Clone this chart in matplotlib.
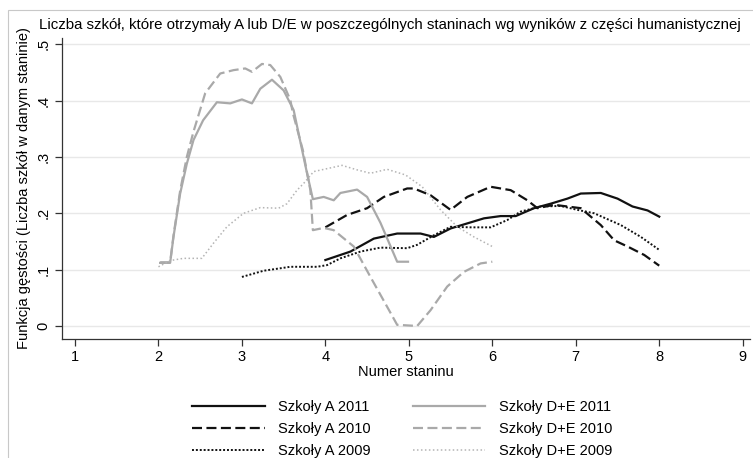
import matplotlib
matplotlib.use("Agg")
from matplotlib import pyplot as plt
from matplotlib.patches import Rectangle

plt.rcParams["font.family"] = ["Liberation Sans", "DejaVu Sans"]

TITLE = "Liczba szkół, które otrzymały A lub D/E w poszczególnych staninach wg wyników z części humanistycznej"
XLABEL = "Numer staninu"
YLABEL = "Funkcja gęstości (Liczba szkół w danym staninie)"

x_ticks = [1, 2, 3, 4, 5, 6, 7, 8, 9]
y_ticks = [0, 0.1, 0.2, 0.3, 0.4, 0.5]
y_ticklabels = ["0", ".1", ".2", ".3", ".4", ".5"]

# Szkoly A 2011
a2011_x = [4.00, 4.30, 4.58, 4.86, 5.14, 5.30, 5.50, 5.70, 5.90, 6.10, 6.28, 6.50, 6.70, 6.90,
           7.06, 7.30, 7.50, 7.68, 7.86, 8.00]
a2011_y = [0.117, 0.132, 0.155, 0.164, 0.164, 0.158, 0.173, 0.182, 0.191, 0.195, 0.195, 0.209,
           0.217, 0.226, 0.235, 0.236, 0.226, 0.212, 0.205, 0.194]

# Szkoly A 2010
a2010_x = [4.00, 4.26, 4.50, 4.70, 4.98, 5.06, 5.26, 5.50, 5.70, 5.98, 6.22, 6.42, 6.54, 6.74,
           7.06, 7.30, 7.46, 7.62, 7.82, 8.00]
a2010_y = [0.175, 0.197, 0.209, 0.229, 0.244, 0.244, 0.232, 0.206, 0.229, 0.247, 0.241, 0.223,
           0.209, 0.215, 0.209, 0.179, 0.152, 0.141, 0.126, 0.107]

# Szkoly A 2009
a2009_x = [3.00, 3.26, 3.58, 3.90, 4.02, 4.18, 4.42, 4.66, 4.98, 5.10, 5.30, 5.50, 5.74, 5.98,
           6.18, 6.34, 6.58, 6.82, 7.02, 7.22, 7.54, 7.78, 8.00]
a2009_y = [0.087, 0.098, 0.105, 0.105, 0.108, 0.120, 0.132, 0.139, 0.138, 0.144, 0.161, 0.176,
           0.175, 0.175, 0.188, 0.203, 0.212, 0.213, 0.206, 0.200, 0.179, 0.158, 0.135]

# Szkoly D+E 2011
de2011_x = [2.02, 2.14, 2.18, 2.26, 2.34, 2.42, 2.535, 2.70, 2.86, 3.00, 3.12, 3.22, 3.36, 3.50,
            3.62, 3.78, 3.85, 3.98, 4.10, 4.18, 4.38, 4.50, 4.66, 4.86, 4.99]
de2011_y = [0.112, 0.112, 0.158, 0.235, 0.288, 0.330, 0.365, 0.397, 0.395, 0.402, 0.395, 0.421,
            0.437, 0.418, 0.383, 0.271, 0.225, 0.229, 0.223, 0.236, 0.242, 0.229, 0.183, 0.114,
            0.114]

# Szkoly D+E 2010
de2010_x = [2.02, 2.14, 2.18, 2.26, 2.34, 2.42, 2.56, 2.74, 2.90, 3.04, 3.12, 3.24, 3.34, 3.46,
            3.58, 3.61, 3.73, 3.82, 3.85, 3.98, 4.10, 4.34, 4.54, 4.74, 4.86, 5.10, 5.26, 5.46,
            5.66, 5.86, 6.00]
de2010_y = [0.113, 0.113, 0.160, 0.240, 0.300, 0.345, 0.413, 0.448, 0.454, 0.457, 0.451, 0.465,
            0.463, 0.442, 0.401, 0.378, 0.312, 0.241, 0.170, 0.174, 0.170, 0.141, 0.087, 0.034,
            0.002, 0.000, 0.028, 0.070, 0.096, 0.111, 0.114]

# Szkoly D+E 2009
de2009_x = [2.00, 2.14, 2.30, 2.52, 2.66, 2.82, 3.02, 3.22, 3.44, 3.54, 3.66, 3.74, 3.86, 4.20,
            4.38, 4.54, 4.74, 4.96, 5.16, 5.38, 5.58, 5.78, 6.00]
de2009_y = [0.105, 0.116, 0.120, 0.120, 0.147, 0.176, 0.200, 0.210, 0.209, 0.217, 0.241, 0.253,
            0.274, 0.285, 0.277, 0.271, 0.278, 0.268, 0.247, 0.206, 0.176, 0.158, 0.141]

BLACK = "#111111"
GREY = "#a9a9a9"
GREY_LIGHT = "#b4b4b4"

fig = plt.figure(figsize=(7.53, 4.58), dpi=100)
fig.patches.append(Rectangle((0.011, -0.01), 1.0, 0.988, transform=fig.transFigure,
                             fill=False, edgecolor="#c8c8c8", linewidth=0.8))

ax = fig.add_axes([0.0823, 0.260, 0.914, 0.657])

ax.plot(a2011_x, a2011_y, color=BLACK, lw=1.6, label="Szkoły A 2011")
ax.plot(a2010_x, a2010_y, color=BLACK, lw=1.6, dashes=(4.5, 2.0), label="Szkoły A 2010")
ax.plot(a2009_x, a2009_y, color=BLACK, lw=1.4, dashes=(1.0, 1.0), label="Szkoły A 2009")
ax.plot(de2011_x, de2011_y, color=GREY, lw=1.6, label="Szkoły D+E 2011")
ax.plot(de2010_x, de2010_y, color=GREY, lw=1.6, dashes=(4.5, 2.0), label="Szkoły D+E 2010")
ax.plot(de2009_x, de2009_y, color=GREY_LIGHT, lw=1.1, dashes=(1.0, 1.6), label="Szkoły D+E 2009")

ax.set_xlim(0.844, 9.09)
ax.set_ylim(-0.023, 0.511)

ax.set_xticks(x_ticks)
ax.set_xticklabels([str(t) for t in x_ticks], fontsize=10.5)
ax.set_yticks(y_ticks)
ax.set_yticklabels(y_ticklabels, fontsize=10.5, rotation=90, va="center")
ax.tick_params(axis="both", direction="out", length=5, width=0.9, color="#333333", pad=3)

for s in ("top", "right"):
    ax.spines[s].set_visible(False)
for s in ("left", "bottom"):
    ax.spines[s].set_color("#333333")
    ax.spines[s].set_linewidth(0.9)

ax.grid(axis="y", color="#e8e8e8", lw=1.0)
ax.set_axisbelow(True)

ax.set_xlabel(XLABEL, fontsize=10.5, labelpad=1)
ax.set_ylabel(YLABEL, fontsize=10.5, labelpad=4)

fig.text(0.518, 0.945, TITLE, ha="center", va="center", fontsize=10.85)

fig.legend(loc="lower left", bbox_to_anchor=(0.237, -0.028), ncol=2, frameon=False,
           fontsize=10.5, handlelength=5.0, handletextpad=0.9, columnspacing=2.9,
           labelspacing=0.55)

fig.savefig("out.png", dpi=100)
